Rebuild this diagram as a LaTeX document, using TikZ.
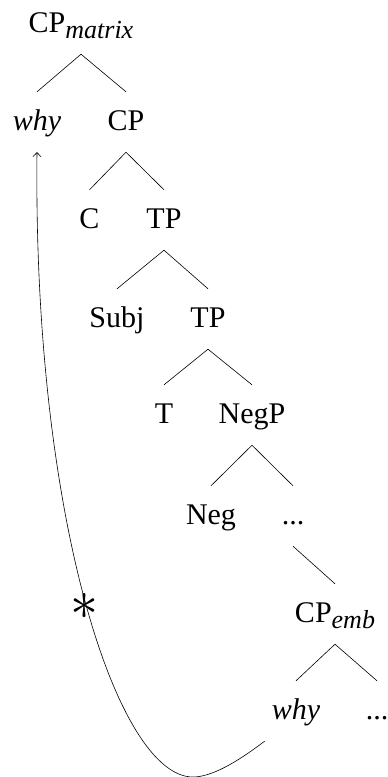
\documentclass[tikz,border=0pt]{standalone}
\usepackage{fontspec}
\setmainfont{Liberation Serif}
\usetikzlibrary{arrows.meta}
\newcommand{\sbs}[1]{\raisebox{-6pt}{\fontsize{26}{30}\selectfont\itshape #1}}
\begin{document}
\begin{tikzpicture}[x=1pt,y=-1pt,
  lbl/.style={anchor=base,font=\fontsize{30}{36}\selectfont,text height=21pt,text depth=5pt,inner ysep=17pt,inner xsep=7pt},
  edge/.style={line width=0.6pt},
  mv/.style={line width=0.6pt,-{Straight Barb[length=4pt,width=8pt]}}]
\useasboundingbox (0,0) rectangle (388,777);
\node[lbl] (root) at (81,32) {CP\sbs{matrix}};
\node[lbl,font=\fontsize{30}{36}\selectfont\itshape] (whyA) at (37,130) {why};
\node[lbl] (cp1) at (126,130) {CP};
\node[lbl] (c) at (89.5,228) {C};
\node[lbl] (tp1) at (164,228) {TP};
\node[lbl] (subj) at (117,327) {Subj};
\node[lbl] (tp2) at (208,327) {TP};
\node[lbl] (t) at (164,423) {T};
\node[lbl] (negp) at (252,423) {NegP};
\node[lbl] (neg) at (211,524) {Neg};
\node[lbl] (dots1) at (293,524) {...};
\node[lbl] (cpemb) at (335,622) {CP\sbs{emb}};
\node[lbl,font=\fontsize{30}{36}\selectfont\itshape] (whyB) at (296,719) {why};
\node[lbl] (dots2) at (377,719) {...};
\foreach \a/\b in {root/whyA,root/cp1,cp1/c,cp1/tp1,tp1/subj,tp1/tp2,tp2/t,tp2/negp,negp/neg,negp/dots1,dots1/cpemb,cpemb/whyB,cpemb/dots2}
  \draw[edge] (\a.south) -- (\b.north);
\coordinate (bot) at (193,777);
\draw[mv] (whyB.south west) .. controls (245,756) and (215,777) .. (bot)
  .. controls (118,777) and (33,520) .. (whyA.south);
\node[inner sep=0pt] (star) at (84,606) {\scalebox{5.6}{$\ast$}};
\end{tikzpicture}
\end{document}
